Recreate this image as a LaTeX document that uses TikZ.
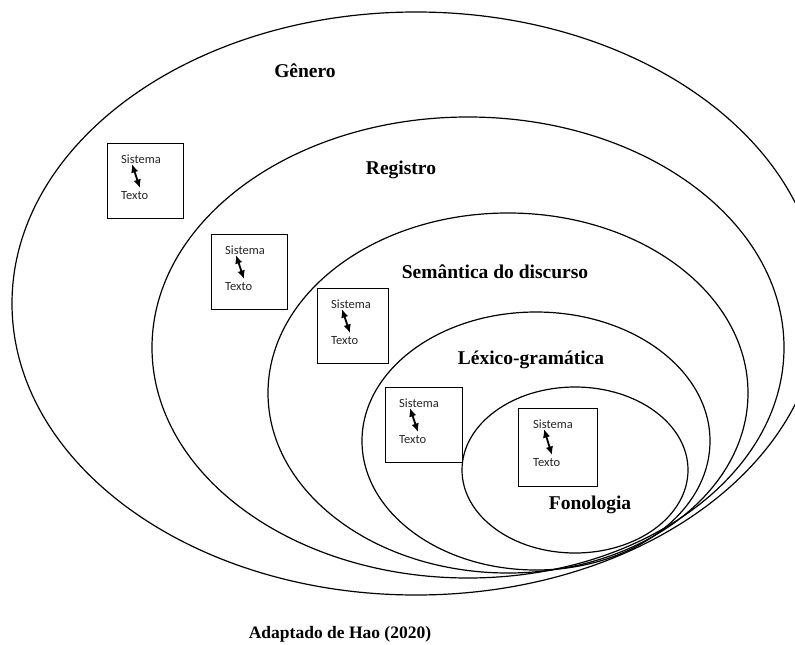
\documentclass[tikz,border=0pt]{standalone}
\usepackage{fontspec}
\setmainfont{Liberation Serif}
\newfontfamily\boxfont{Carlito}
\usetikzlibrary{positioning,shapes.geometric,arrows.meta}

\begin{document}
\begin{tikzpicture}
  [x=1pt,y=-1pt,
   layer/.style={ellipse,draw,line width=1.2pt,inner sep=0pt},
   layername/.style={font=\fontsize{19.5}{22}\selectfont\bfseries},
   sysbox/.style={rectangle,draw,fill=white,line width=1.3pt,
minimum width=76pt,minimum height=75pt,anchor=north west},
   boxtext/.style={font=\boxfont\fontsize{12.5}{14}\selectfont,inner sep=0pt,text=black!85},
   link/.style={{Latex[length=8.5pt,width=7.5pt]}-{Latex[length=8.5pt,width=7.5pt]},line width=1.8pt}]
  \useasboundingbox (0,0) rectangle (795,645);

  % the five strata
  \node[layer,minimum width=808pt,minimum height=583pt] (genero) at (416,303.5) {};
  \node[layer,minimum width=632pt,minimum height=461pt] (registro) at (468,347.5) {};
  \node[layer,minimum width=480pt,minimum height=360pt] (semantica) at (508,393) {};
  \node[layer,minimum width=348pt,minimum height=258pt] (lexico) at (536,441) {};
  \node[layer,minimum width=226pt,minimum height=166pt] (fonologia) at (575,470) {};

  \node[layername] (genlabel) at (305,71) {Gênero};
  \node[layername] (reglabel) at (401,170) {Registro};
  \node[layername] (semlabel) at (495,272) {Semântica do discurso};
  \node[layername] (lexlabel) at (531,360) {Léxico-gramática};
  \node[layername] (fonlabel) at (590,505) {Fonologia};

  % sistema <-> texto boxes
  \node[sysbox] (box1) at (107,143) {};
  \node[boxtext] (sis1) [below right=12pt and 14pt of box1.north west] {Sistema};
  \node[boxtext] (tex1) [below right=48pt and 14pt of box1.north west] {Texto};
  \draw[link] ([xshift=11pt]sis1.south west) -- ([xshift=19pt,yshift=3pt]tex1.north west);

  \node[sysbox] (box2) at (211,234) {};
  \node[boxtext] (sis2) [below right=12pt and 14pt of box2.north west] {Sistema};
  \node[boxtext] (tex2) [below right=48pt and 14pt of box2.north west] {Texto};
  \draw[link] ([xshift=11pt]sis2.south west) -- ([xshift=19pt,yshift=3pt]tex2.north west);

  \node[sysbox,minimum width=71pt] (box3) at (317,288) {};
  \node[boxtext] (sis3) [below right=12pt and 14pt of box3.north west] {Sistema};
  \node[boxtext] (tex3) [below right=48pt and 14pt of box3.north west] {Texto};
  \draw[link] ([xshift=11pt]sis3.south west) -- ([xshift=19pt,yshift=3pt]tex3.north west);

  \node[sysbox,minimum width=77pt] (box4) at (385,387) {};
  \node[boxtext] (sis4) [below right=12pt and 14pt of box4.north west] {Sistema};
  \node[boxtext] (tex4) [below right=48pt and 14pt of box4.north west] {Texto};
  \draw[link] ([xshift=11pt]sis4.south west) -- ([xshift=19pt,yshift=3pt]tex4.north west);

  \node[sysbox,minimum width=79pt,minimum height=78pt] (box5) at (518,408) {};
  \node[boxtext] (sis5) [below right=12pt and 15pt of box5.north west] {Sistema};
  \node[boxtext] (tex5) [below right=50pt and 15pt of box5.north west] {Texto};
  \draw[link] ([xshift=11pt]sis5.south west) -- ([xshift=19pt,yshift=3pt]tex5.north west);

  \node[font=\fontsize{17.5}{20}\selectfont\bfseries] (caption) at (340,634) {Adaptado de Hao (2020)};
\end{tikzpicture}
\end{document}
